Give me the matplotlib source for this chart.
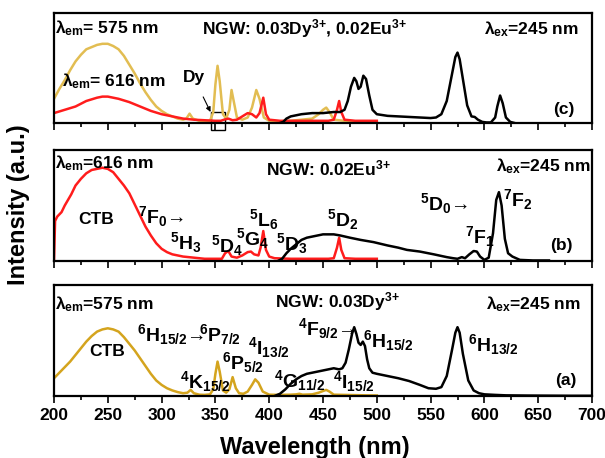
import numpy as np
import matplotlib
matplotlib.use("Agg")
import matplotlib.pyplot as plt
from matplotlib.patches import Rectangle

plt.rcParams['font.family'] = ['Liberation Sans', 'DejaVu Sans']
plt.rcParams['font.weight'] = 'bold'
plt.rcParams['mathtext.fontset'] = 'custom'
plt.rcParams['mathtext.rm'] = 'Liberation Sans'
plt.rcParams['mathtext.it'] = 'Liberation Sans'
plt.rcParams['mathtext.bf'] = 'Liberation Sans:bold'
plt.rcParams['mathtext.default'] = 'bf'

GOLD = '#d4a41e'
GOLD_LIGHT = '#e2bd52'
RED = '#ff1c1c'

# (a) NGW: 0.03Dy - excitation (em 575 nm) and emission (ex 245 nm)
a_exc_wl = [200, 205, 210, 215, 220, 225, 230, 235, 240, 245, 250, 255, 260, 265, 270, 275, 280, 285,
            290, 295, 300, 305, 310, 315, 320, 324, 327, 330, 335, 340, 345, 348, 350, 352, 354, 357,
            360, 363, 366, 369, 372, 376, 380, 384, 387, 390, 394, 400, 410, 420, 425, 428, 431, 440,
            446, 450, 453, 456, 460, 470, 480, 490, 500]
a_exc = [0.16, 0.21, 0.26, 0.31, 0.37, 0.43, 0.49, 0.54, 0.58, 0.60, 0.61, 0.60, 0.58, 0.53, 0.47, 0.41,
         0.34, 0.27, 0.20, 0.14, 0.10, 0.07, 0.05, 0.035, 0.025, 0.03, 0.055, 0.025, 0.012, 0.01, 0.015,
         0.06, 0.20, 0.31, 0.22, 0.05, 0.03, 0.06, 0.17, 0.07, 0.025, 0.02, 0.04, 0.10, 0.15, 0.12, 0.04,
         0.012, 0.01, 0.012, 0.015, 0.02, 0.012, 0.015, 0.03, 0.045, 0.055, 0.04, 0.012, 0.01, 0.008,
         0.006, 0.005]
a_em_wl = [405, 410, 415, 420, 425, 430, 435, 440, 445, 450, 455, 460, 465, 468, 471, 474, 477, 479, 481,
           483, 485, 487, 489, 491, 493, 496, 500, 510, 520, 530, 540, 548, 555, 560, 565, 570, 573, 575,
           577, 580, 585, 590, 595, 600, 610, 620, 640, 660, 680, 700]
a_em = [0.0, 0.02, 0.06, 0.11, 0.15, 0.18, 0.20, 0.21, 0.22, 0.23, 0.24, 0.25, 0.24, 0.25, 0.30, 0.42,
        0.56, 0.62, 0.56, 0.48, 0.46, 0.49, 0.45, 0.33, 0.25, 0.21, 0.20, 0.18, 0.16, 0.135, 0.10, 0.07,
        0.065, 0.08, 0.18, 0.42, 0.57, 0.62, 0.57, 0.38, 0.14, 0.05, 0.025, 0.015, 0.01, 0.006, 0.004,
        0.003, 0.002, 0.002]

# (b) NGW: 0.02Eu - excitation (em 616 nm) and emission (ex 245 nm)
b_exc_wl = [200, 201, 203, 205, 207, 210, 213, 216, 220, 225, 230, 235, 240, 245, 250, 255, 260, 265,
            270, 275, 280, 285, 290, 295, 300, 305, 310, 320, 330, 340, 350, 356, 359, 362, 365, 370,
            375, 380, 383, 386, 390, 392, 394.5, 397, 400, 405, 420, 440, 455, 460, 463, 465, 467, 470,
            480, 500]
b_exc = [0.0, 0.36, 0.40, 0.42, 0.44, 0.50, 0.55, 0.60, 0.68, 0.74, 0.79, 0.82, 0.83, 0.84, 0.83, 0.80,
         0.74, 0.68, 0.61, 0.51, 0.41, 0.31, 0.23, 0.16, 0.11, 0.08, 0.06, 0.04, 0.03, 0.02, 0.02, 0.02,
         0.07, 0.09, 0.04, 0.03, 0.05, 0.08, 0.085, 0.06, 0.05, 0.12, 0.27, 0.10, 0.04, 0.025, 0.02, 0.02,
         0.02, 0.025, 0.12, 0.21, 0.10, 0.025, 0.02, 0.02]
b_em_wl = [408, 412, 416, 420, 425, 430, 435, 440, 450, 460, 466, 475, 485, 497, 510, 520, 528, 540, 553,
           565, 571, 575, 579, 582, 586, 590, 593, 596, 600, 604, 608, 611, 613.5, 616, 619, 622, 626, 633,
           645, 660]
b_em = [0.0, 0.02, 0.07, 0.11, 0.15, 0.19, 0.21, 0.22, 0.24, 0.24, 0.23, 0.21, 0.19, 0.17, 0.14, 0.12,
        0.10, 0.085, 0.06, 0.035, 0.025, 0.02, 0.035, 0.025, 0.06, 0.09, 0.085, 0.04, 0.01, 0.03, 0.25,
        0.55, 0.62, 0.50, 0.20, 0.07, 0.04, 0.01, 0.005, 0.005]

# (c) NGW: 0.03Dy, 0.02Eu - two excitation spectra and one emission spectrum
c_dy_wl = [200, 205, 210, 215, 220, 225, 230, 235, 240, 245, 250, 255, 260, 265, 270, 275, 280, 285, 290,
           295, 300, 305, 310, 315, 320, 323, 326, 329, 335, 340, 345, 348, 350, 352, 354, 357, 360, 363,
           365, 367, 370, 375, 380, 384, 388, 391, 395, 400, 410, 420, 430, 440, 446, 450, 453, 456, 460,
           470, 480, 490, 500]
c_dy = [0.22, 0.31, 0.39, 0.48, 0.56, 0.62, 0.67, 0.69, 0.71, 0.72, 0.72, 0.70, 0.67, 0.61, 0.53, 0.45,
        0.36, 0.28, 0.21, 0.15, 0.11, 0.08, 0.06, 0.04, 0.03, 0.04, 0.085, 0.04, 0.02, 0.015, 0.02, 0.10,
        0.35, 0.52, 0.38, 0.08, 0.04, 0.12, 0.30, 0.20, 0.05, 0.03, 0.05, 0.14, 0.30, 0.22, 0.05, 0.02,
        0.015, 0.02, 0.03, 0.04, 0.08, 0.12, 0.14, 0.10, 0.03, 0.02, 0.015, 0.015, 0.01]
c_eu_wl = [200, 210, 220, 230, 240, 245, 250, 260, 270, 280, 290, 300, 310, 320, 330, 340, 350, 355, 358,
           362, 366, 370, 375, 380, 384, 388, 391, 394.5, 397, 400, 410, 420, 440, 455, 460, 463, 465,
           467, 470, 480, 500]
c_eu = [0.09, 0.12, 0.15, 0.20, 0.23, 0.24, 0.24, 0.22, 0.19, 0.15, 0.11, 0.08, 0.06, 0.04, 0.03, 0.025,
        0.02, 0.02, 0.03, 0.04, 0.025, 0.03, 0.06, 0.09, 0.08, 0.05, 0.09, 0.23, 0.08, 0.03, 0.02, 0.02,
        0.02, 0.02, 0.03, 0.12, 0.20, 0.10, 0.03, 0.02, 0.02]
c_em_wl = [410, 413, 416, 420, 425, 430, 440, 450, 460, 466, 470, 473, 476, 479, 481, 483, 485, 487.5,
           490, 493, 496, 500, 510, 520, 530, 540, 550, 555, 560, 565, 570, 573, 575, 577, 580, 584, 588,
           591, 594, 598, 602, 606, 610, 612, 614.6, 617, 620, 624, 628]
c_em = [0.0, 0.01, 0.04, 0.06, 0.07, 0.08, 0.09, 0.09, 0.10, 0.10, 0.12, 0.20, 0.33, 0.41, 0.38, 0.31,
        0.33, 0.43, 0.40, 0.25, 0.12, 0.08, 0.065, 0.06, 0.055, 0.05, 0.045, 0.05, 0.08, 0.20, 0.45, 0.60,
        0.64, 0.58, 0.40, 0.16, 0.06, 0.055, 0.03, 0.01, 0.005, 0.005, 0.05, 0.15, 0.25, 0.18, 0.05, 0.01,
        0.0]

HEAD = 12.5
TERM = 14
LEM = r'$\mathrm{\lambda}_{\mathrm{em}}$'
LEX = r'$\mathrm{\lambda}_{\mathrm{ex}}$'

fig = plt.figure(figsize=(6.05, 4.58), dpi=100)
W, H = 605.0, 458.0
x0, x1 = 54, 592


def panel(top, bottom):
    ax = fig.add_axes([x0 / W, 1 - bottom / H, (x1 - x0) / W, (bottom - top) / H])
    ax.set_xlim(200, 700)
    ax.set_ylim(0, 1)
    ax.set_yticks([])
    ax.set_xticks(np.arange(200, 701, 50))
    ax.set_xticks(np.arange(200, 701, 25), minor=True)
    ax.tick_params(axis='x', which='major', direction='out', length=5, width=1.2,
                   labelsize=12.5, pad=3.5)
    ax.tick_params(axis='x', which='minor', direction='out', length=3, width=1.2)
    for s in ax.spines.values():
        s.set_linewidth(1.6)
    return ax


ax_c = panel(13, 123)
ax_b = panel(150, 261)
ax_a = panel(285, 396)
ax_c.tick_params(labelbottom=False)
ax_b.tick_params(labelbottom=False)
for lab in ax_a.get_xticklabels():
    lab.set_fontweight('bold')

LW = 1.8

# panel (c)
ax_c.plot(c_dy_wl, c_dy, color=GOLD_LIGHT, lw=LW)
ax_c.plot(c_eu_wl, c_eu, color=RED, lw=LW)
ax_c.plot(c_em_wl, c_em, color='k', lw=LW)
ax_c.text(201, 0.86, LEM + '= 575 nm', fontsize=HEAD, va='center', ha='left')
ax_c.text(433, 0.86, r'NGW: 0.03Dy$^{3{+}}$, 0.02Eu$^{3{+}}$', fontsize=HEAD, va='center', ha='center')
ax_c.text(688, 0.85, LEX + '=245 nm', fontsize=HEAD, va='center', ha='right')
ax_c.text(207, 0.38, LEM + '= 616 nm', fontsize=HEAD, va='center', ha='left')
ax_c.text(684, 0.12, '(c)', fontsize=HEAD, va='center', ha='right')
ax_c.annotate('Dy', xy=(345.5, 0.10), xytext=(330, 0.41), fontsize=HEAD, ha='center', va='center',
              arrowprops=dict(arrowstyle='-|>', color='k', lw=0.8, mutation_scale=7,
                              shrinkA=7, shrinkB=0))
ax_c.add_patch(Rectangle((345.6, -0.06), 13.4, 0.16, fill=False, ec='k', lw=1.0, clip_on=False))

# panel (b)
ax_b.plot(b_exc_wl, b_exc, color=RED, lw=LW)
ax_b.plot(b_em_wl, b_em, color='k', lw=LW)
ax_b.text(201, 0.88, LEM + '=616 nm', fontsize=HEAD, va='center', ha='left')
ax_b.text(455, 0.83, r'NGW: 0.02Eu$^{3{+}}$', fontsize=HEAD, va='center', ha='center')
ax_b.text(699, 0.85, LEX + '=245 nm', fontsize=HEAD, va='center', ha='right')
ax_b.text(682, 0.14, '(b)', fontsize=HEAD, va='center', ha='right')
ax_b.text(239.5, 0.37, 'CTB', fontsize=HEAD, va='center', ha='center')
b_terms = [
    (278, 0.40, r'$^{7}$F$_{0}$→'),
    (308, 0.17, r'$^{5}$H$_{3}$'),
    (346, 0.14, r'$^{5}$D$_{4}$'),
    (369, 0.20, r'$^{5}$G$_{4}$'),
    (381, 0.37, r'$^{5}$L$_{6}$'),
    (406, 0.16, r'$^{5}$D$_{3}$'),
    (454, 0.37, r'$^{5}$D$_{2}$'),
    (540, 0.52, r'$^{5}$D$_{0}$→'),
    (582, 0.22, r'$^{7}$F$_{1}$'),
    (617, 0.55, r'$^{7}$F$_{2}$'),
]
for wx, wy, s in b_terms:
    ax_b.text(wx, wy, s, fontsize=TERM, va='center', ha='left')

# panel (a)
ax_a.plot(a_exc_wl, a_exc, color=GOLD, lw=LW)
ax_a.plot(a_em_wl, a_em, color='k', lw=LW)
ax_a.text(201, 0.83, LEM + '=575 nm', fontsize=HEAD, va='center', ha='left')
ax_a.text(463, 0.85, r'NGW: 0.03Dy$^{3{+}}$', fontsize=HEAD, va='center', ha='center')
ax_a.text(690, 0.83, LEX + '=245 nm', fontsize=HEAD, va='center', ha='right')
ax_a.text(686, 0.14, '(a)', fontsize=HEAD, va='center', ha='right')
ax_a.text(249, 0.40, 'CTB', fontsize=HEAD, va='center', ha='center')
a_terms = [
    (277, 0.55, r'$^{6}$H$_{15/2}$→'),
    (335, 0.55, r'$^{6}$P$_{7/2}$'),
    (356, 0.30, r'$^{6}$P$_{5/2}$'),
    (317, 0.13, r'$^{4}$K$_{15/2}$'),
    (380, 0.44, r'$^{4}$I$_{13/2}$'),
    (404, 0.14, r'$^{4}$G$_{11/2}$'),
    (459, 0.13, r'$^{4}$I$_{15/2}$'),
    (427, 0.61, r'$^{4}$F$_{9/2}$→'),
    (487, 0.50, r'$^{6}$H$_{15/2}$'),
    (585, 0.46, r'$^{6}$H$_{13/2}$'),
]
for wx, wy, s in a_terms:
    ax_a.text(wx, wy, s, fontsize=TERM, va='center', ha='left')

fig.text(0.03, 0.553, 'Intensity (a.u.)', rotation=90, fontsize=17, va='center', ha='center')
fig.text(0.52, 0.022, 'Wavelength (nm)', fontsize=17, va='center', ha='center')

fig.savefig('out.png', dpi=100)
